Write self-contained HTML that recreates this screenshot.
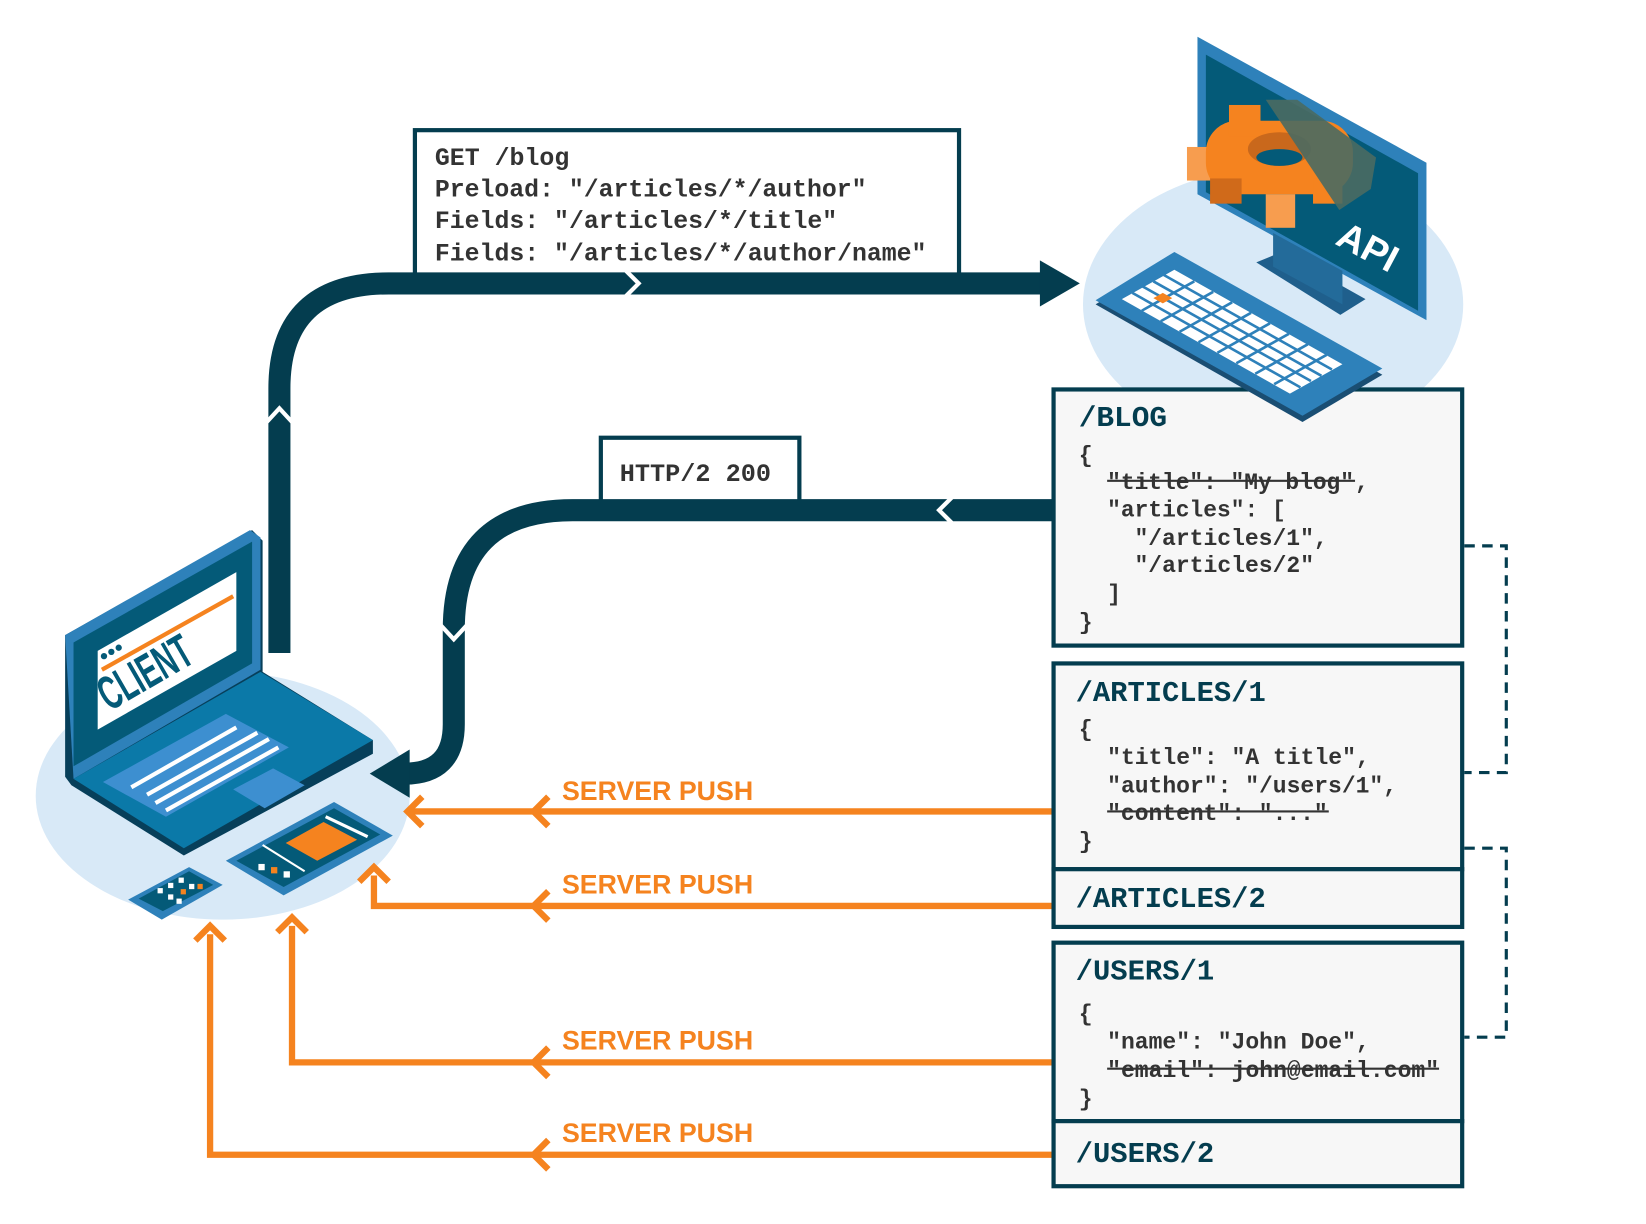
<!DOCTYPE html>
<html><head><meta charset="utf-8"><style>
html,body{margin:0;padding:0;background:#fff}
svg{display:block}
.m{font-family:"Liberation Mono","DejaVu Sans Mono",monospace;font-weight:bold;fill:#333}
.h{font-family:"Liberation Mono","DejaVu Sans Mono",monospace;font-weight:bold;fill:#043d4f}
.o{font-family:"Liberation Sans",sans-serif;font-weight:bold;fill:#f5831f;font-size:26px}
</style></head><body>
<svg width="1646" height="1224" viewBox="0 0 1567 1166" preserveAspectRatio="none" xmlns="http://www.w3.org/2000/svg">
<ellipse cx="212" cy="758" rx="178" ry="118" fill="#d8e9f7"/>
<ellipse cx="1212" cy="290" rx="181" ry="130" fill="#d8e9f7"/>

<rect x="395" y="124" width="518" height="150" fill="#fff" stroke="#043d4f" stroke-width="4"/>
<g class="m" font-size="24">
<text x="414" y="157" textLength="128" lengthAdjust="spacingAndGlyphs">GET /blog</text>
<text x="414" y="187" textLength="411" lengthAdjust="spacingAndGlyphs">Preload: "/articles/*/author"</text>
<text x="414" y="217" textLength="383" lengthAdjust="spacingAndGlyphs">Fields: "/articles/*/title"</text>
<text x="414" y="248" textLength="468" lengthAdjust="spacingAndGlyphs">Fields: "/articles/*/author/name"</text>
</g>
<path d="M266 622 L266 370 Q266 270 370 270 L995 270" fill="none" stroke="#043d4f" stroke-width="21"/>
<polygon points="990,248 1028,270 990,292" fill="#043d4f"/>
<polyline points="596,258 608,270 596,282" fill="none" stroke="#fff" stroke-width="4"/>
<polyline points="254,402 266,389 278,402" fill="none" stroke="#fff" stroke-width="4"/>

<rect x="572" y="417" width="189" height="70" fill="#fff" stroke="#043d4f" stroke-width="4"/>
<text class="m" x="590" y="458" font-size="24" textLength="144" lengthAdjust="spacingAndGlyphs">HTTP/2 200</text>
<path d="M1005 486 L545 486 Q432 486 432 600 L432 690 Q432 737 385 737" fill="none" stroke="#043d4f" stroke-width="21"/>
<polygon points="390,714 352,737 390,760" fill="#043d4f"/>
<polyline points="906,474 894,486 906,498" fill="none" stroke="#fff" stroke-width="4"/>
<polyline points="420,596 432,609 444,596" fill="none" stroke="#fff" stroke-width="4"/>

<g fill="none" stroke="#f5831f" stroke-width="6">
<path d="M1003 773 L392 773"/>
<polyline points="522,759 508,773 522,787"/><polyline points="402,759 388,773 402,787"/>
<path d="M1003 863 L356 863 L356 834"/>
<polyline points="522,849 508,863 522,877"/><polyline points="342,840 356,826 370,840"/>
<path d="M1003 1012 L278 1012 L278 882"/>
<polyline points="522,998 508,1012 522,1026"/><polyline points="264,888 278,874 292,888"/>
<path d="M1003 1100 L200 1100 L200 890"/>
<polyline points="522,1086 508,1100 522,1114"/><polyline points="186,896 200,882 214,896"/>
</g>
<g class="o">
<text x="535" y="762" textLength="182" lengthAdjust="spacingAndGlyphs">SERVER  PUSH</text>
<text x="535" y="851" textLength="182" lengthAdjust="spacingAndGlyphs">SERVER  PUSH</text>
<text x="535" y="1000" textLength="182" lengthAdjust="spacingAndGlyphs">SERVER  PUSH</text>
<text x="535" y="1088" textLength="182" lengthAdjust="spacingAndGlyphs">SERVER  PUSH</text>
</g>

<g fill="none" stroke="#043d4f" stroke-width="3" stroke-dasharray="10 7">
<polyline points="1394,520 1434,520 1434,736 1394,736"/>
<polyline points="1394,808 1434,808 1434,988 1394,988"/>
</g>

<g fill="#f7f7f7" stroke="#043d4f" stroke-width="4">
<rect x="1003" y="371" width="389" height="244"/>
<rect x="1003" y="632" width="389" height="196"/>
<rect x="1003" y="828" width="389" height="55"/>
<rect x="1003" y="898" width="389" height="170"/>
<rect x="1003" y="1068" width="389" height="62"/>
</g>
<g class="h" font-size="27">
<text x="1027" y="406" textLength="84" lengthAdjust="spacingAndGlyphs">/BLOG</text>
<text x="1024" y="668" textLength="181" lengthAdjust="spacingAndGlyphs">/ARTICLES/1</text>
<text x="1024" y="864" textLength="181" lengthAdjust="spacingAndGlyphs">/ARTICLES/2</text>
<text x="1024" y="933" textLength="132" lengthAdjust="spacingAndGlyphs">/USERS/1</text>
<text x="1024" y="1107" textLength="132" lengthAdjust="spacingAndGlyphs">/USERS/2</text>
</g>
<g class="m" font-size="22">
<text x="1027" y="440">{</text>
<text x="1054" y="466" textLength="235" lengthAdjust="spacingAndGlyphs">"title": "My blog"</text><text x="1290" y="466">,</text>
<text x="1054" y="492" textLength="170" lengthAdjust="spacingAndGlyphs">"articles": [</text>
<text x="1080" y="519" textLength="184" lengthAdjust="spacingAndGlyphs">"/articles/1",</text>
<text x="1080" y="545" textLength="171" lengthAdjust="spacingAndGlyphs">"/articles/2"</text>
<text x="1054" y="572">]</text>
<text x="1027" y="599">}</text>

<text x="1027" y="701">{</text>
<text x="1054" y="728" textLength="250" lengthAdjust="spacingAndGlyphs">"title": "A title",</text>
<text x="1054" y="755" textLength="276" lengthAdjust="spacingAndGlyphs">"author": "/users/1",</text>
<text x="1054" y="781" textLength="210" lengthAdjust="spacingAndGlyphs">"content": "..."</text>
<text x="1027" y="808">}</text>

<text x="1027" y="972">{</text>
<text x="1054" y="999" textLength="250" lengthAdjust="spacingAndGlyphs">"name": "John Doe",</text>
<text x="1054" y="1026" textLength="316" lengthAdjust="spacingAndGlyphs">"email": john@email.com"</text>
<text x="1027" y="1053">}</text>
</g>
<g stroke="#333" stroke-width="2">
<line x1="1054" y1="458" x2="1290" y2="458"/>
<line x1="1054" y1="773" x2="1265" y2="773"/>
<line x1="1054" y1="1018" x2="1370" y2="1018"/>
</g>

<!-- API monitor -->
<polygon points="1140,35 1358,155 1358,305 1140,185" fill="#2e81ba"/>
<polygon points="1148,52 1350,165 1350,296 1148,183" fill="#045a78"/>
<polygon points="1196,250 1220,240 1300,285 1276,300" fill="#1f5f8c"/>
<polygon points="1212,222 1278,258 1278,290 1212,254" fill="#236b9a"/>
<g>
<rect x="1130" y="140" width="34" height="32" fill="#f79d4f"/>
<rect x="1148" y="115" width="140" height="70" fill="#f5831f" rx="30"/>
<rect x="1170" y="100" width="30" height="30" fill="#f5831f"/>
<rect x="1205" y="185" width="28" height="32" fill="#f79d4f"/>
<rect x="1250" y="170" width="28" height="24" fill="#f5831f"/>
<rect x="1152" y="170" width="30" height="24" fill="#d06a1a"/>
<ellipse cx="1218" cy="142" rx="30" ry="16" fill="#c9681c"/>
<ellipse cx="1218" cy="150" rx="22" ry="8" fill="#045a78"/>
<polygon points="1205,95 1235,95 1310,150 1305,180 1275,200" fill="#4a6a62" opacity="0.9"/>
</g>
<text x="0" y="0" transform="translate(1270,232) rotate(28)" font-family="Liberation Sans,sans-serif" font-weight="bold" font-size="36" fill="#fff">API</text>
<polygon points="1043,290 1118,244 1316,357 1240,402" fill="#1a4e73"/>
<polygon points="1043,286 1118,240 1316,351 1240,396" fill="#2e81ba"/>
<polygon points="1068,285 1118,257 1278,347 1228,375" fill="#fff"/>
<g stroke="#2e81ba" stroke-width="2.5">
<line x1="1078" y1="279" x2="1238" y2="369"/><line x1="1088" y1="273" x2="1248" y2="363"/>
<line x1="1098" y1="268" x2="1258" y2="358"/><line x1="1108" y1="262" x2="1268" y2="352"/>
<line x1="1087" y1="296" x2="1137" y2="268"/><line x1="1105" y1="306" x2="1155" y2="278"/>
<line x1="1123" y1="316" x2="1173" y2="288"/><line x1="1141" y1="326" x2="1191" y2="298"/>
<line x1="1159" y1="336" x2="1209" y2="308"/><line x1="1177" y1="346" x2="1227" y2="318"/>
<line x1="1195" y1="356" x2="1245" y2="328"/><line x1="1213" y1="366" x2="1263" y2="338"/>
</g>
<polygon points="1098,284 1107,279 1116,284 1107,289" fill="#f5831f"/>

<!-- client laptop -->
<polygon points="62,605 240,505 250,515 250,640 355,705 355,718 175,815 68,748 62,740" fill="#073f5a"/>
<polygon points="62,605 238,505 248,512 248,638 70,742" fill="#2e81ba"/>
<polygon points="70,612 240,516 240,632 70,730" fill="#045a78"/>
<polygon points="93,620 225,545 225,620 93,695" fill="#fff"/>
<line x1="97" y1="638" x2="222" y2="568" stroke="#f5831f" stroke-width="4"/>
<circle cx="99" cy="625" r="3" fill="#045a78"/><circle cx="106" cy="621" r="3" fill="#045a78"/><circle cx="113" cy="617" r="3" fill="#045a78"/>
<text transform="translate(104,678) rotate(-30) scale(0.7,1.2)" font-family="Liberation Sans,sans-serif" font-weight="bold" font-size="38" fill="#045a78">CLIENT</text>
<polygon points="70,742 248,640 355,705 175,808" fill="#0b79a8"/>
<polygon points="98,745 215,680 275,712 158,778" fill="#3d8fd0"/>
<g stroke="#fff" stroke-width="4">
<line x1="125" y1="750" x2="225" y2="693"/><line x1="140" y1="757" x2="245" y2="698"/>
<line x1="148" y1="765" x2="256" y2="704"/><line x1="158" y1="772" x2="265" y2="712"/>
</g>
<polygon points="222,752 260,732 290,748 252,770" fill="#3d8fd0"/>
<polygon points="215,820 318,764 374,796 270,853" fill="#2e81ba"/>
<polygon points="225,820 318,770 362,795 270,845" fill="#045a78"/>
<polygon points="272,803 308,783 340,800 302,820" fill="#f5831f"/>
<line x1="250" y1="805" x2="290" y2="830" stroke="#fff" stroke-width="2"/>
<line x1="310" y1="778" x2="350" y2="797" stroke="#fff" stroke-width="3"/>
<rect x="258" y="826" width="6" height="6" fill="#f5831f"/><rect x="246" y="823" width="6" height="6" fill="#fff"/><rect x="270" y="830" width="6" height="6" fill="#fff"/>
<polygon points="122,857 180,826 212,843 154,876" fill="#2e81ba"/>
<polygon points="132,856 180,830 203,843 155,868" fill="#045a78"/>
<g fill="#fff"><rect x="150" y="846" width="5" height="5"/><rect x="160" y="841" width="5" height="5"/><rect x="170" y="836" width="5" height="5"/><rect x="160" y="852" width="5" height="5"/><rect x="180" y="842" width="5" height="5"/><rect x="168" y="856" width="5" height="5"/></g>
<rect x="172" y="847" width="5" height="5" fill="#f5831f"/><rect x="188" y="842" width="5" height="5" fill="#f5831f"/>
</svg>
</body></html>
